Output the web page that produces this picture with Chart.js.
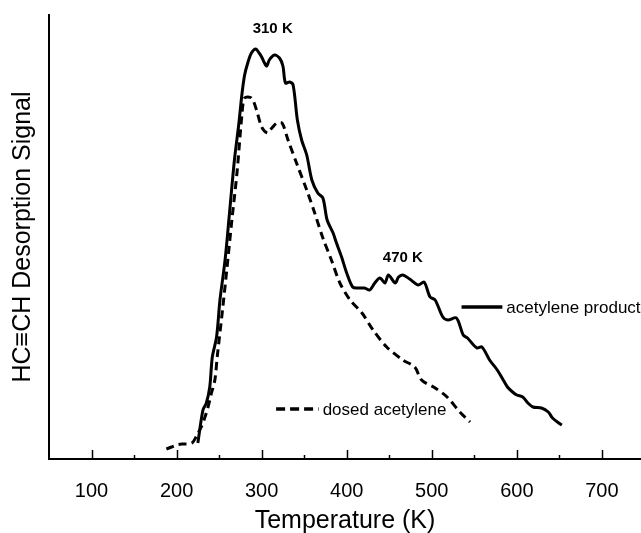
<!DOCTYPE html>
<html>
<head>
<meta charset="utf-8">
<script src="https://cdn.jsdelivr.net/npm/chart.js@4"></script>
<style>
  html, body { margin: 0; padding: 0; background: #fff; }
  .chart-box { width: 641px; height: 533px; position: relative; }
</style>
</head>
<body>
<div class="chart-box">
  <canvas id="tpd-chart"></canvas>
</div>
<script>
// temperatures (K) and signal (arb. units)
const productTemps = [225,231,235,239,242,247,251,257,262,268,273,277,280,284,288,293,297,300,304,306,309,315,321,325,328,333,337,342,347,353,359,366,372,377,384,388,394,400,407,413,421,427,433,439,445,449,457,461,466,474,484,491,498,504,513,519,529,537,542,553,559,568,577,584,589,595,600,607,613,619,629,637,642,651,653];
const productSignal = [16,49,56,72,102,122,159,199,244,299,334,366,384,397,406,410,406,402,395,393,399,404,401,393,376,377,374,339,319,304,279,266,261,239,226,216,202,186,172,171,171,169,176,181,176,184,176,182,184,180,174,177,162,159,142,139,141,124,121,111,112,99,89,79,72,67,64,62,56,52,51,47,41,35,34];

const dosedTemps = [188,194,200,207,218,224,229,233,237,241,245,248,254,259,265,271,277,280,288,294,300,307,312,318,324,331,341,353,362,372,382,392,404,418,431,447,466,480,488,504,518,533,545];
const dosedSignal = [10,12,14,15,16,24,32,41,52,66,79,104,149,189,239,286,346,361,361,349,332,326,331,336,336,319,296,269,247,221,199,176,159,146,129,112,99,92,79,71,62,47,37];

const tickValues = [100, 200, 300, 400, 500, 600, 700];
const minorTicks = [150, 250, 350, 450, 550, 650];

// peak labels: text, temperature, signal
const peakLabels = [
  ['310 K', 313, 430],
  ['470 K', 466, 201]
];
// legend entries: text, dashed?, line start T, line end T, signal
const legendItems = [
  ['acetylene product', false, 535, 583, 152],
  ['dosed acetylene', true, 317, 367, 50]
];

const ink = '#000';
const family = '"Liberation Sans", Arial, sans-serif';

const extrasPlugin = {
  id: 'extras',
  afterDatasetsDraw(chart) {
    const ctx = chart.ctx;
    const x = chart.scales.x;
    const y = chart.scales.y;
    const base = y.getPixelForValue(0);
    ctx.save();
    ctx.strokeStyle = ink;
    ctx.lineWidth = 1.5;
    tickValues.concat(minorTicks).forEach(v => {
      const px = Math.round(x.getPixelForValue(v)) + 0.5;
      const len = tickValues.includes(v) ? 9 : 4;
      ctx.beginPath();
      ctx.moveTo(px, base);
      ctx.lineTo(px, base - len);
      ctx.stroke();
    });

    ctx.fillStyle = ink;
    ctx.font = 'bold 15px ' + family;
    ctx.textAlign = 'center';
    ctx.textBaseline = 'middle';
    peakLabels.forEach(([txt, t, s]) => {
      ctx.fillText(txt, x.getPixelForValue(t), y.getPixelForValue(s));
    });

    ctx.font = '17px ' + family;
    ctx.textAlign = 'left';
    legendItems.forEach(([txt, dashed, t0, t1, s]) => {
      const py = y.getPixelForValue(s);
      ctx.lineWidth = 3.5;
      ctx.setLineDash(dashed ? [9, 5] : []);
      ctx.beginPath();
      ctx.moveTo(x.getPixelForValue(t0), py);
      ctx.lineTo(x.getPixelForValue(t1), py);
      ctx.stroke();
      ctx.setLineDash([]);
      ctx.fillText(txt, x.getPixelForValue(t1) + 4, py + 1);
    });
    ctx.restore();
  }
};

const data = {
  datasets: [
    {
      label: 'acetylene product',
      data: productTemps.map((t, i) => ({ x: t, y: productSignal[i] })),
      borderColor: ink,
      borderWidth: 3,
      pointRadius: 0,
      tension: 0.3,
      fill: false
    },
    {
      label: 'dosed acetylene',
      data: dosedTemps.map((t, i) => ({ x: t, y: dosedSignal[i] })),
      borderColor: ink,
      borderWidth: 3,
      borderDash: [8, 5],
      pointRadius: 0,
      tension: 0.3,
      fill: false
    }
  ]
};

const options = {
  responsive: true,
  maintainAspectRatio: false,
  animation: false,
  layout: { padding: { top: 15, right: 0, left: 0, bottom: 0 } },
  plugins: {
    legend: { display: false },
    tooltip: { enabled: false }
  },
  scales: {
    x: {
      type: 'linear',
      min: 50,
      max: 746,
      afterFit: (scale) => { scale.height = 74; },
      afterBuildTicks: (scale) => { scale.ticks = tickValues.map(v => ({ value: v })); },
      grid: { display: false, drawTicks: false },
      border: { display: true, color: ink, width: 2 },
      ticks: {
        color: ink,
        padding: 20,
        maxRotation: 0,
        font: { family: family, size: 20 }
      },
      title: {
        display: true,
        text: 'Temperature (K)',
        color: ink,
        padding: { top: 0, bottom: 0 },
        font: { family: family, size: 25, lineHeight: 0.95 }
      }
    },
    y: {
      min: 0,
      max: 444,
      afterFit: (scale) => { scale.width = 49; },
      grid: { display: false, drawTicks: false },
      border: { display: true, color: ink, width: 2 },
      ticks: { display: false },
      title: {
        display: true,
        text: 'HC\u2261CH Desorption Signal',
        color: ink,
        padding: { top: 8, bottom: 0 },
        font: { family: family, size: 25 }
      }
    }
  }
};

const ctx = document.getElementById('tpd-chart');
new Chart(ctx, {
  type: 'line',
  data: data,
  options: options,
  plugins: [extrasPlugin]
});
</script>
</body>
</html>
